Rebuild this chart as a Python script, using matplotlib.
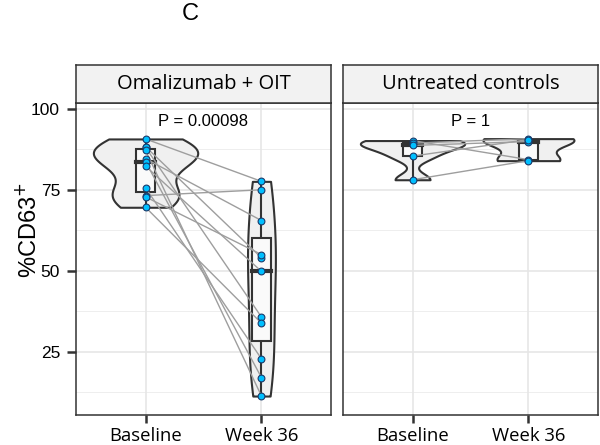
import matplotlib

matplotlib.use("Agg")
import matplotlib.pyplot as plt
import numpy as np

# ---- data ----
groups = ["Omalizumab + OIT", "Untreated controls"]
timepoints = ["Baseline", "Week 36"]
p_labels = ["P = 0.00098", "P = 1"]

# paired values, same subject at same index
oit_baseline = [90.7, 88.3, 88.1, 87.2, 84.6, 83.7, 82.3, 75.6, 73.2, 72.8, 69.6]
oit_week36 = [77.6, 54.0, 35.7, 11.3, 65.5, 17.0, 49.8, 22.8, 75.0, 55.0, 33.8]
ctrl_baseline = [90.2, 89.4, 88.7, 85.4, 78.1]
ctrl_week36 = [84.3, 90.8, 89.9, 90.5, 84.0]

y_ticks = [25, 50, 75, 100]
p_label_y = [96.0, 96.0]

W, H = 600, 445
EDGE = "#333333"


def kde_nrd0(vals, n=512):
    v = np.asarray(vals, float)
    sd = v.std(ddof=1)
    q1, q3 = np.percentile(v, [25, 75])
    lo = min(sd, (q3 - q1) / 1.34)
    bw = 0.9 * lo * len(v) ** -0.2
    y = np.linspace(v.min(), v.max(), n)
    d = np.exp(-0.5 * ((y[:, None] - v[None, :]) / bw) ** 2).sum(1)
    d /= len(v) * bw * np.sqrt(2 * np.pi)
    return y, d


def draw_panel(ax, base, wk, p_text, p_y):
    series = [base, wk]
    dens = [kde_nrd0(s) for s in series]
    dmax = max(d.max() for _, d in dens)

    # grid like theme_bw
    for yv in np.arange(12.5, 101, 25):
        ax.axhline(yv, color="#EBEBEB", lw=0.6, zorder=0)
    for yv in y_ticks:
        ax.axhline(yv, color="#E6E6E6", lw=1.2, zorder=0)
    for xv in (1, 2):
        ax.axvline(xv, color="#E6E6E6", lw=1.2, zorder=0)

    # violins (area scaled within panel)
    for i, (yy, d) in enumerate(dens):
        x = i + 1
        hw = 0.45 * d / dmax
        ax.fill_betweenx(yy, x - hw, x + hw, facecolor="#F0F0F0",
                         edgecolor=EDGE, lw=1.5, zorder=2)

    # boxplots
    for i, s in enumerate(series):
        x = i + 1
        q1, med, q3 = np.percentile(s, [25, 50, 75])
        bw = 0.08
        ax.plot([x, x], [min(s), q1], color=EDGE, lw=1.5, zorder=3)
        ax.plot([x, x], [q3, max(s)], color=EDGE, lw=1.5, zorder=3)
        ax.add_patch(plt.Rectangle((x - bw, q1), 2 * bw, q3 - q1,
                                   facecolor="#FAFAFA", edgecolor=EDGE,
                                   lw=1.5, zorder=3))
        ax.plot([x - bw, x + bw], [med, med], color=EDGE, lw=3, zorder=3)

    # paired lines
    for a, b in zip(base, wk):
        ax.plot([1, 2], [a, b], color="#9E9E9E", lw=1.0, zorder=4)

    # points
    for i, s in enumerate(series):
        ax.scatter(np.full(len(s), i + 1), s, s=24, facecolor="#00BFFF",
                   edgecolor="#1A3A6A", lw=0.8, zorder=5)

    ax.text(1.5, p_y, p_text, ha="center", va="center", fontsize=12,
            family="Liberation Sans", zorder=6)

    ax.set_xlim(0.4, 2.6)
    ax.set_ylim(5.6, 101.8)
    ax.set_xticks([1, 2])
    ax.set_xticklabels(timepoints, fontsize=13.3, family="Open Sans")
    ax.tick_params(axis="x", length=5.8, width=1.8, color=EDGE, pad=3)
    for sp in ax.spines.values():
        sp.set_color(EDGE)
        sp.set_linewidth(1.1)


fig = plt.figure(figsize=(W / 100, H / 100), dpi=100)

panels = [(76, oit_baseline, oit_week36), (343, ctrl_baseline, ctrl_week36)]
for k, (x0, base, wk) in enumerate(panels):
    ax = fig.add_axes([x0 / W, (H - 414.5) / H, 255 / W, 311.5 / H])
    draw_panel(ax, base, wk, p_labels[k], p_label_y[k])
    ax.set_yticks(y_ticks)
    if k == 0:
        ax.set_yticklabels([str(t) for t in y_ticks], fontsize=12.5,
                           family="Liberation Sans")
        ax.tick_params(axis="y", length=6.5, width=1.8, color=EDGE, pad=5)
    else:
        ax.tick_params(axis="y", length=0, labelleft=False)

    # facet strip
    sax = fig.add_axes([x0 / W, (H - 103) / H, 255 / W, 38 / H])
    sax.set_facecolor("#F2F2F2")
    sax.set_xticks([])
    sax.set_yticks([])
    for sp in sax.spines.values():
        sp.set_color(EDGE)
        sp.set_linewidth(1.1)
    sax.text(0.5, 0.5, groups[k], ha="center", va="center", fontsize=14.5,
             family="Open Sans", transform=sax.transAxes)

fig.text(29 / W, 1 - 230 / H, "%CD63$^{+}$", rotation=90, ha="center",
         va="center", fontsize=17, family="Liberation Sans")
fig.text(190 / W, 1 - 14 / H, "C", ha="center", va="center", fontsize=17,
         family="Liberation Sans")

fig.savefig("out.png", dpi=100)
